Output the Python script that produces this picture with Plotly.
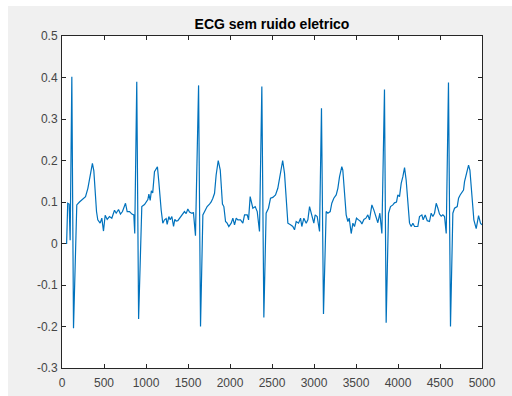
import plotly.graph_objects as go

# ECG trace without mains noise: sample index and amplitude
sample_idx = [
    0, 55, 68, 85, 97, 117, 137, 176, 208, 228, 260, 280, 308, 327, 347, 362, 379, 395, 411, 426,
    454, 474, 494, 514, 538, 565, 593, 625, 645, 673, 696, 720, 736, 756, 776, 804, 832, 855, 866,
    890, 912, 950, 982, 1002, 1022, 1034, 1050, 1064, 1080, 1101, 1121, 1136, 1152, 1165, 1181, 1200,
    1220, 1240, 1252, 1272, 1288, 1308, 1328, 1343, 1359, 1379, 1399, 1419, 1439, 1458, 1478, 1498,
    1518, 1542, 1565, 1589,
    1626, 1649, 1677, 1697, 1728, 1756, 1776, 1796, 1816, 1835, 1860, 1884, 1900, 1910, 1927, 1947,
    1966, 1986, 2014, 2034, 2054, 2074, 2093, 2125, 2153, 2173, 2205, 2221, 2240, 2272, 2300, 2324, 2351,
    2379, 2403, 2430, 2458, 2482, 2510, 2542, 2569, 2597, 2627, 2649, 2669, 2689, 2720, 2748, 2768,
    2788, 2816, 2840, 2855, 2879, 2907, 2927, 2947, 2974, 2998, 3014, 3038, 3066,
    3089, 3113, 3145, 3165, 3193, 3212, 3236, 3264, 3284, 3304, 3331, 3343, 3363, 3383, 3403, 3419,
    3443, 3463, 3482, 3506, 3530, 3554, 3570, 3594, 3618, 3641, 3661, 3689, 3712, 3740, 3760, 3784, 3808,
    3839, 3859, 3887, 3911, 3939, 3958, 3982, 3998, 4018, 4038, 4058, 4078, 4097, 4117, 4137, 4157,
    4177, 4197, 4216, 4236, 4256, 4284, 4300, 4324, 4348, 4375, 4395, 4415, 4435, 4455, 4475, 4494,
    4514, 4534, 4554, 4574,
    4601, 4625, 4653, 4673, 4705, 4721, 4740, 4760, 4780, 4792, 4816, 4840, 4856, 4879, 4903, 4931,
    4959, 4982, 5000,
]
ecg_signal = [
    0.0, 0.0, 0.097, 0.095, 0.008, 0.402, -0.204, 0.093, 0.100, 0.104, 0.108, 0.113, 0.133, 0.153, 0.177, 0.193, 0.175, 0.121, 0.077, 0.057,
    0.049, 0.061, 0.030, 0.068, 0.058, 0.065, 0.061, 0.080, 0.073, 0.082, 0.071, 0.077, 0.085, 0.097, 0.077, 0.077, 0.071, 0.069, 0.024,
    0.390, -0.182, 0.089, 0.094, 0.099, 0.106, 0.119, 0.104, 0.127, 0.122, 0.173, 0.180, 0.185, 0.150, 0.110, 0.080, 0.049,
    0.057, 0.060, 0.046, 0.065, 0.057, 0.065, 0.041, 0.058, 0.054, 0.055, 0.060, 0.065, 0.070, 0.077, 0.072, 0.083,
    0.076, 0.073, 0.074, 0.019,
    0.381, -0.200, 0.069, 0.077, 0.089, 0.095, 0.100, 0.109, 0.121, 0.165, 0.200, 0.177, 0.110, 0.095, 0.089, 0.053,
    0.049, 0.041, 0.049, 0.061, 0.045, 0.061, 0.057, 0.057, 0.049, 0.069, 0.069, 0.057, 0.113, 0.085, 0.089, 0.077, 0.029,
    0.378, -0.178, 0.073, 0.085, 0.109, 0.111, 0.117, 0.133, 0.165, 0.200, 0.169, 0.097, 0.049, 0.045, 0.041, 0.033,
    0.053, 0.049, 0.061, 0.041, 0.061, 0.049, 0.057, 0.089, 0.069, 0.049, 0.069, 0.065, 0.029,
    0.326, -0.170, 0.077, 0.073, 0.077, 0.097, 0.109, 0.117, 0.133, 0.161, 0.185, 0.177, 0.113, 0.069, 0.053, 0.061,
    0.024, 0.049, 0.041, 0.061, 0.057, 0.053, 0.047, 0.058, 0.061, 0.069, 0.057, 0.093, 0.081, 0.065, 0.050, 0.073, 0.024,
    0.371, -0.191, 0.073, 0.089, 0.093, 0.098, 0.100, 0.117, 0.113, 0.145, 0.161, 0.183, 0.153, 0.093, 0.049, 0.041,
    0.049, 0.041, 0.041, 0.041, 0.065, 0.069, 0.057, 0.069, 0.055, 0.053, 0.073, 0.065, 0.073, 0.097, 0.085, 0.071,
    0.066, 0.069, 0.065, 0.024,
    0.388, -0.200, 0.073, 0.085, 0.089, 0.109, 0.117, 0.125, 0.129, 0.149, 0.169, 0.189, 0.177, 0.121, 0.057, 0.036,
    0.067, 0.049, 0.045,
]

x_ticks = [0, 500, 1000, 1500, 2000, 2500, 3000, 3500, 4000, 4500, 5000]
y_ticks = [-0.3, -0.2, -0.1, 0, 0.1, 0.2, 0.3, 0.4, 0.5]
y_tick_labels = ["-0.3", "-0.2", "-0.1", "0", "0.1", "0.2", "0.3", "0.4", "0.5"]

FONT = "Liberation Sans, Arial, Helvetica, sans-serif"
AXIS_COLOR = "#262626"

fig = go.Figure()
fig.add_trace(go.Scatter(
    x=sample_idx, y=ecg_signal, mode="lines",
    line=dict(color="#0072BD", width=1.2),
    showlegend=False, hoverinfo="skip",
))

axis_common = dict(
    showgrid=False, zeroline=False, automargin=False,
    showline=True, linecolor=AXIS_COLOR, linewidth=1, mirror="ticks",
    ticks="inside", ticklen=4, tickcolor=AXIS_COLOR, tickwidth=1,
    tickfont=dict(family=FONT, size=12, color="#454545"),
)

fig.update_xaxes(range=[0, 5000], tickvals=x_ticks, ticklabelstandoff=4, **axis_common)
fig.update_yaxes(range=[-0.3, 0.5], tickvals=y_ticks, ticktext=y_tick_labels,
                 ticklabelstandoff=1, **axis_common)

fig.update_layout(
    width=512, height=396,
    margin=dict(l=62, r=30, t=36, b=28),
    paper_bgcolor="#f0f0f0", plot_bgcolor="white",
    title=dict(
        text="<b>ECG sem ruido eletrico</b>",
        font=dict(family=FONT, size=14, color="#000000"),
        x=0.5, xref="paper", xanchor="center",
        y=0.94, yref="container", yanchor="middle",
    ),
    shapes=[
        # white window border strips on the left and top edges
        dict(type="rect", xref="paper", yref="paper", x0=-0.16, x1=-0.1286, y0=-0.1, y1=1.12,
             fillcolor="white", line=dict(width=0), layer="below"),
        dict(type="rect", xref="paper", yref="paper", x0=-0.16, x1=1.1, y0=1.0904, y1=1.12,
             fillcolor="white", line=dict(width=0), layer="below"),
    ],
)

fig.write_html("out.html")
